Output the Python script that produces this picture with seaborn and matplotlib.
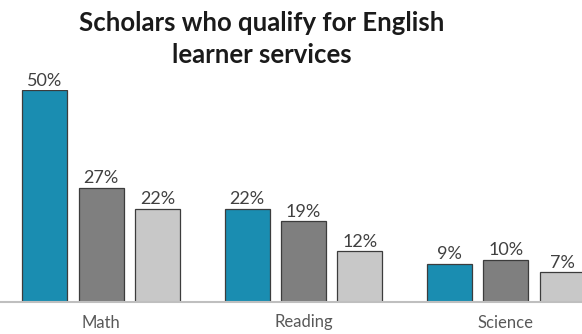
import matplotlib
matplotlib.use("Agg")
import matplotlib.pyplot as plt
import seaborn as sns
import pandas as pd

subjects = ["Math", "Reading", "Science"]
series = ["Series 1", "Series 2", "Series 3"]
values_s1 = [50, 22, 9]
values_s2 = [27, 19, 10]
values_s3 = [22, 12, 7]
colors = ["#1a8db1", "#7f7f7f", "#c8c8c8"]
title = "Scholars who qualify for English\nlearner services"

rows = []
for s, vals in zip(series, [values_s1, values_s2, values_s3]):
    for subj, v in zip(subjects, vals):
        rows.append({"Subject": subj, "Series": s, "Value": v})
df = pd.DataFrame(rows)

sns.set_theme(style="white")
plt.rcParams["font.family"] = ["Lato", "DejaVu Sans"]

W, H = 582, 334
fig = plt.figure(figsize=(W / 100, H / 100), dpi=100)
# axes: x from 0 to 607 px, y baseline at 302 px, top (50%) at 90 px
ax = fig.add_axes([0 / W, (H - 302) / H, 607 / W, 212 / H])

sns.barplot(data=df, x="Subject", y="Value", hue="Series", order=subjects,
            hue_order=series, palette=colors, saturation=1, width=0.835, gap=0.2,
            edgecolor="#3c3c3c", linewidth=0.9, legend=False, ax=ax)

for cont in ax.containers:
    labels = [f"{int(round(b.get_height()))}%" for b in cont]
    ax.bar_label(cont, labels=labels, padding=1, fontsize=13,
                 color="#404040", clip_on=False)

ax.set_xlim(-0.5, 2.5)
ax.set_ylim(0, 50)
ax.set_xlabel("")
ax.set_ylabel("")
ax.set_yticks([])
for side in ["left", "right", "top"]:
    ax.spines[side].set_visible(False)
ax.spines["bottom"].set_color("#bfbfbf")
ax.spines["bottom"].set_linewidth(1.5)
ax.tick_params(axis="x", length=0, pad=9, labelsize=12, labelcolor="#595959")

fig.text(262 / W, 1 - 39 / H, title, ha="center", va="center", fontsize=18.5,
         fontweight="bold", color="#1a1a1a", linespacing=1.4,
         multialignment="center")

fig.savefig("out.png", dpi=100)
